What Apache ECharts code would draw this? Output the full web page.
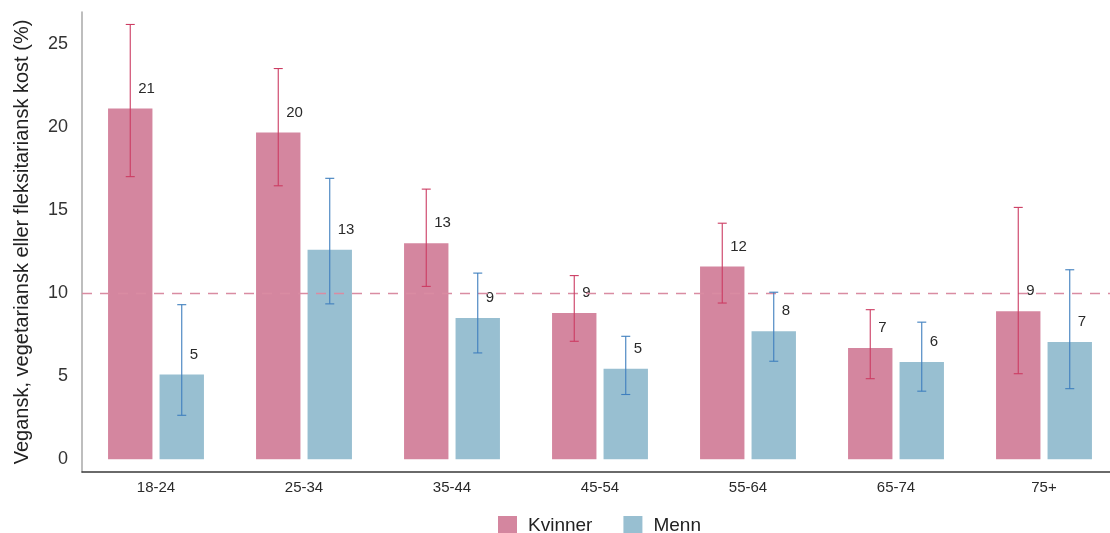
<!DOCTYPE html>
<html>
<head>
<meta charset="utf-8">
<script src="https://cdn.jsdelivr.net/npm/echarts@6/dist/echarts.min.js"></script>
<style>
  html, body { margin: 0; padding: 0; background: #ffffff; }
  #chart { width: 1110px; height: 533px; }
</style>
</head>
<body>
<div id="chart"></div>
<script>
// Aldersgrupper
const categories = ['18-24', '25-34', '35-44', '45-54', '55-64', '65-74', '75+'];

// Andel (%) med vegansk, vegetariansk eller fleksitariansk kost
const kvinner = [21.1, 19.65, 13.0, 8.8, 11.6, 6.7, 8.9];
const menn = [5.1, 12.6, 8.5, 5.45, 7.7, 5.85, 7.05];

// Konfidensintervall (nedre / øvre grense)
const kvinnerLow = [17.0, 16.45, 10.4, 7.1, 9.4, 4.85, 5.15];
const kvinnerHigh = [26.15, 23.5, 16.25, 11.05, 14.2, 9.0, 15.15];
const mennLow = [2.65, 9.35, 6.4, 3.9, 5.9, 4.1, 4.25];
const mennHigh = [9.3, 16.9, 11.2, 7.4, 10.05, 8.25, 11.4];

// Gjennomsnitt for hele utvalget
const totalAverage = 10;

const yTicks = [0, 5, 10, 15, 20, 25];

const FONT = '"Liberation Sans", Arial, sans-serif';
const BAR_WIDTH = 0.30;   // share of a category band
const BAR_GAP = 0.16;     // gap between the two bars, share of bar width

const colors = {
  kvinner: '#d4869f',
  menn: '#98bfd1',
  kvinnerErr: '#cc3c62',
  mennErr: '#3f7fbe',
  ref: '#d98ca2'
};

// Draws a vertical whisker with caps for one bar of the group (side -1 = left, +1 = right)
function errorBars(low, high, side, color) {
  return {
    type: 'custom',
    silent: true,
    z: 5,
    data: categories.map((c, i) => [i, low[i], high[i]]),
    encode: { x: 0, y: [1, 2] },
    renderItem: function (params, api) {
      const idx = api.value(0);
      const band = api.size([1, 0])[0];
      const shift = side * band * BAR_WIDTH * (1 + BAR_GAP) / 2;
      const lo = api.coord([idx, api.value(1)]);
      const hi = api.coord([idx, api.value(2)]);
      const x = lo[0] + shift;
      const cap = 4.5;
      const style = { stroke: color, lineWidth: 1.1 };
      return {
        type: 'group',
        children: [
          { type: 'line', shape: { x1: x, y1: hi[1], x2: x, y2: lo[1] }, style: style },
          { type: 'line', shape: { x1: x - cap, y1: hi[1], x2: x + cap, y2: hi[1] }, style: style },
          { type: 'line', shape: { x1: x - cap, y1: lo[1], x2: x + cap, y2: lo[1] }, style: style }
        ]
      };
    }
  };
}

const valueLabel = {
  show: true,
  position: 'top',
  distance: 20,
  align: 'left',
  verticalAlign: 'middle',
  offset: [8, 0],
  fontFamily: FONT,
  fontSize: 15,
  color: '#2a2a2a',
  formatter: p => Math.round(p.value)
};

const chart = echarts.init(document.getElementById('chart'), null, { renderer: 'canvas' });

chart.setOption({
  animation: false,
  backgroundColor: '#ffffff',
  textStyle: { fontFamily: FONT },
  grid: {
    left: 82, top: 12, bottom: 61, width: 1036,
    containLabel: false,
    outerBoundsMode: 'none'
  },
  legend: {
    data: ['Kvinner', 'Menn'],
    left: 493,
    top: 511,
    itemWidth: 19,
    itemHeight: 19,
    itemGap: 31,
    icon: 'rect',
    textStyle: { fontFamily: FONT, fontSize: 19, color: '#222', padding: [0, 0, 0, 6] }
  },
  xAxis: {
    type: 'category',
    data: categories,
    axisLine: { onZero: false, lineStyle: { color: '#3a3a3a', width: 1.5 } },
    axisTick: { show: false },
    axisLabel: { fontFamily: FONT, fontSize: 15, color: '#2a2a2a', margin: 8 },
    splitLine: { show: false }
  },
  yAxis: {
    type: 'value',
    min: -0.76,
    max: 26.9,
    name: 'Vegansk, vegetariansk eller fleksitariansk kost (%)',
    nameLocation: 'middle',
    nameRotate: 90,
    nameGap: 50,
    nameTextStyle: { fontFamily: FONT, fontSize: 20, color: '#222' },
    axisLine: { show: true, lineStyle: { color: '#a8a8a8', width: 1.5 } },
    axisTick: { show: false },
    splitLine: { show: false },
    axisLabel: {
      customValues: yTicks,
      fontFamily: FONT,
      fontSize: 18,
      color: '#333',
      margin: 14
    }
  },
  series: [
    {
      name: 'Kvinner',
      type: 'bar',
      data: kvinner,
      barWidth: (BAR_WIDTH * 100) + '%',
      barGap: (BAR_GAP * 100) + '%',
      itemStyle: { color: colors.kvinner },
      label: valueLabel,
      z: 2,
      markLine: {
        silent: true,
        symbol: 'none',
        label: { show: false },
        lineStyle: { color: colors.ref, type: [10, 8], width: 1.4 },
        data: [{ yAxis: totalAverage }]
      }
    },
    {
      name: 'Menn',
      type: 'bar',
      data: menn,
      barWidth: (BAR_WIDTH * 100) + '%',
      barGap: (BAR_GAP * 100) + '%',
      itemStyle: { color: colors.menn },
      label: valueLabel,
      z: 2
    },
    errorBars(kvinnerLow, kvinnerHigh, -1, colors.kvinnerErr),
    errorBars(mennLow, mennHigh, 1, colors.mennErr)
  ]
});
</script>
</body>
</html>
